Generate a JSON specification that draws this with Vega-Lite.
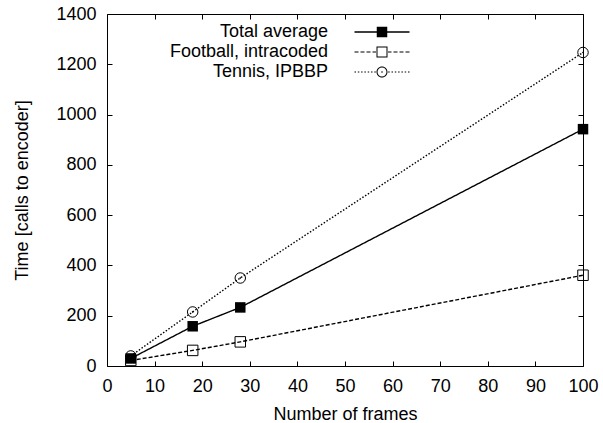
{
  "$schema": "https://vega.github.io/schema/vega-lite/v6.json",
  "width": 476,
  "height": 352,
  "autosize": {"type": "none"},
  "padding": {"left": 107, "top": 14, "right": 20, "bottom": 57},
  "background": "white",
  "config": {
    "view": {"stroke": null},
    "font": "Liberation Sans",
    "axis": {
      "grid": false,
      "domain": true,
      "domainColor": "black",
      "domainWidth": 1,
      "tickColor": "black",
      "tickWidth": 1,
      "tickSize": -5,
      "labelFont": "Liberation Sans",
      "labelFontSize": 18,
      "labelColor": "black",
      "labelFlush": false,
      "labelOverlap": false,
      "titleFont": "Liberation Sans",
      "titleFontSize": 18,
      "titleFontWeight": "normal",
      "titleColor": "black"
    }
  },
  "data": {
    "values": [
      {"frames": 5, "time": 40, "series": "Tennis, IPBBP"},
      {"frames": 18, "time": 215, "series": "Tennis, IPBBP"},
      {"frames": 28, "time": 350, "series": "Tennis, IPBBP"},
      {"frames": 100, "time": 1247, "series": "Tennis, IPBBP"},
      {"frames": 5, "time": 22, "series": "Football, intracoded"},
      {"frames": 18, "time": 62, "series": "Football, intracoded"},
      {"frames": 28, "time": 96, "series": "Football, intracoded"},
      {"frames": 100, "time": 361, "series": "Football, intracoded"},
      {"frames": 5, "time": 30, "series": "Total average"},
      {"frames": 18, "time": 158, "series": "Total average"},
      {"frames": 28, "time": 233, "series": "Total average"},
      {"frames": 100, "time": 942, "series": "Total average"}
    ]
  },
  "layer": [
    {
      "mark": {"type": "line", "color": "black", "strokeWidth": 1.4},
      "encoding": {
        "x": {
          "field": "frames", "type": "quantitative",
          "scale": {"domain": [0, 100], "nice": false, "zero": false},
          "axis": {"orient": "bottom", "values": [0, 10, 20, 30, 40, 50, 60, 70, 80, 90, 100], "labelPadding": 16, "title": "Number of frames", "titlePadding": 10}
        },
        "y": {
          "field": "time", "type": "quantitative",
          "scale": {"domain": [0, 1400], "nice": false},
          "axis": {"orient": "left", "values": [0, 200, 400, 600, 800, 1000, 1200, 1400], "format": "d", "labelPadding": 16, "title": "Time [calls to encoder]", "titlePadding": 24}
        },
        "strokeDash": {
          "field": "series", "type": "nominal",
          "scale": {
            "domain": ["Total average", "Football, intracoded", "Tennis, IPBBP"],
            "range": [[1, 0], [4, 2], [1.5, 1.8]]
          },
          "legend": {
            "title": null,
            "orient": "none",
            "legendX": 266,
            "legendY": 9,
            "padding": 0,
            "symbolSize": 100,
            "symbolStrokeWidth": 0,
            "labelAlign": "right",
            "labelOffset": -63,
            "labelFont": "Liberation Sans",
            "labelFontSize": 18,
            "labelColor": "black",
            "labelLimit": 400,
            "rowPadding": 2
          }
        }
      }
    },
    {
      "transform": [{"filter": "datum.frames < 0"}],
      "mark": {"type": "point", "filled": true, "size": 100},
      "encoding": {
        "shape": {
          "field": "series", "type": "nominal",
          "scale": {
            "domain": ["Total average", "Football, intracoded", "Tennis, IPBBP"],
            "range": [
              "M-5.5,-0.13H5.5V0.13H-5.5Z M-1.05,-1.05H1.05V1.05H-1.05Z",
              "M-5.5,-0.12H-4.7V0.12H-5.5Z M-4.3,-0.12H-3.5V0.12H-4.3Z M-3.1,-0.12H-2.3V0.12H-3.1Z M-1.9,-0.12H-1.2V0.12H-1.9Z M1.2,-0.12H1.9V0.12H1.2Z M2.3,-0.12H3.1V0.12H2.3Z M3.5,-0.12H4.3V0.12H3.5Z M4.7,-0.12H5.5V0.12H4.7Z M-1.1,-1.1H1.1V1.1H-1.1Z M-0.9,-0.9V0.9H0.9V-0.9Z",
              "M-5.5,-0.12H-5.2V0.12H-5.5Z M-4.84,-0.12H-4.54V0.12H-4.84Z M-4.18,-0.12H-3.88V0.12H-4.18Z M-3.52,-0.12H-3.22V0.12H-3.52Z M-2.86,-0.12H-2.56V0.12H-2.86Z M-2.2,-0.12H-1.9V0.12H-2.2Z M-1.54,-0.12H-1.24V0.12H-1.54Z M1.24,-0.12H1.54V0.12H1.24Z M1.9,-0.12H2.2V0.12H1.9Z M2.56,-0.12H2.86V0.12H2.56Z M3.22,-0.12H3.52V0.12H3.22Z M3.88,-0.12H4.18V0.12H3.88Z M4.54,-0.12H4.84V0.12H4.54Z M5.2,-0.12H5.5V0.12H5.2Z M1.1,0A1.1,1.1 0 1,1 -1.1,0A1.1,1.1 0 1,1 1.1,0Z M0.9,0A0.9,0.9 0 1,0 -0.9,0A0.9,0.9 0 1,0 0.9,0Z M0.16,0A0.16,0.16 0 1,1 -0.16,0A0.16,0.16 0 1,1 0.16,0Z"
            ]
          },
          "legend": null
        },
        "fill": {
          "field": "series", "type": "nominal",
          "scale": {
            "domain": ["Total average", "Football, intracoded", "Tennis, IPBBP"],
            "range": ["black", "black", "black"]
          },
          "legend": null
        }
      }
    },
    {
      "transform": [{"filter": "datum.series === 'Tennis, IPBBP'"}],
      "mark": {"type": "point", "shape": "M1,0A1,1 0 1,1 -1,0A1,1 0 1,1 1,0Z M0.1,0A0.1,0.1 0 1,1 -0.1,0A0.1,0.1 0 1,1 0.1,0Z", "filled": false, "stroke": "black", "strokeWidth": 1, "size": 110, "opacity": 1},
      "encoding": {
        "x": {
          "field": "frames", "type": "quantitative",
          "scale": {"domain": [0, 100], "nice": false, "zero": false},
          "axis": {"orient": "top", "values": [0, 10, 20, 30, 40, 50, 60, 70, 80, 90, 100], "labels": false, "title": null}
        },
        "y": {
          "field": "time", "type": "quantitative",
          "scale": {"domain": [0, 1400], "nice": false},
          "axis": {"orient": "right", "values": [0, 200, 400, 600, 800, 1000, 1200, 1400], "labels": false, "title": null}
        }
      }
    },
    {
      "transform": [{"filter": "datum.series === 'Football, intracoded'"}],
      "mark": {"type": "point", "shape": "square", "filled": false, "stroke": "black", "strokeWidth": 1, "size": 110, "opacity": 1},
      "encoding": {
        "x": {"field": "frames", "type": "quantitative", "scale": {"domain": [0, 100], "nice": false, "zero": false}, "axis": null},
        "y": {"field": "time", "type": "quantitative", "scale": {"domain": [0, 1400], "nice": false}, "axis": null}
      }
    },
    {
      "transform": [{"filter": "datum.series === 'Total average'"}],
      "mark": {"type": "point", "shape": "square", "filled": true, "color": "black", "size": 110, "opacity": 1},
      "encoding": {
        "x": {"field": "frames", "type": "quantitative", "scale": {"domain": [0, 100], "nice": false, "zero": false}, "axis": null},
        "y": {"field": "time", "type": "quantitative", "scale": {"domain": [0, 1400], "nice": false}, "axis": null}
      }
    }
  ],
  "resolve": {"scale": {"x": "independent", "y": "independent"}}
}
